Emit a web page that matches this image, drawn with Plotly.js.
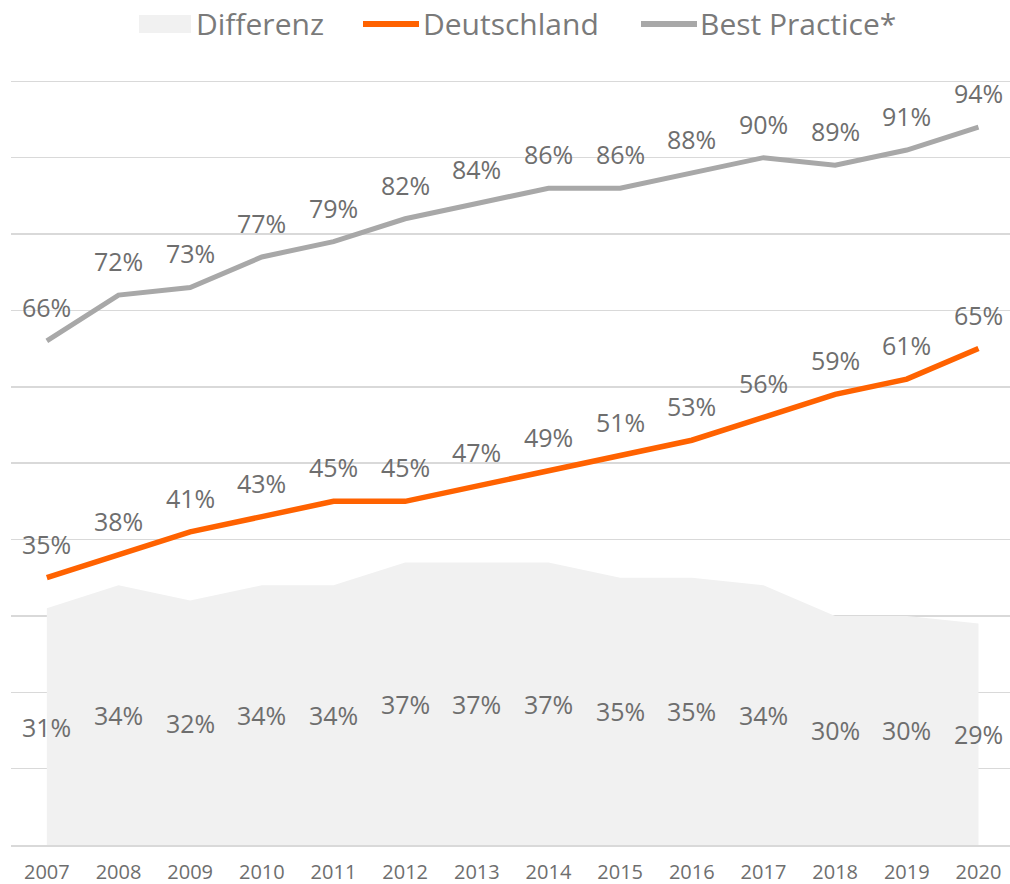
<!DOCTYPE html>
<html>
<head>
<meta charset="utf-8">
<script src="https://cdn.plot.ly/plotly-3.0.1.min.js"></script>
<style>html,body{margin:0;padding:0;background:#fff;overflow:hidden;}#chart{width:1010px;height:884px;}</style>
</head>
<body>
<div id="chart"></div>
<script>
var years = [2007,2008,2009,2010,2011,2012,2013,2014,2015,2016,2017,2018,2019,2020];
var bestPractice = [66,72,73,77,79,82,84,86,86,88,90,89,91,94];
var deutschland = [35,38,41,43,45,45,47,49,51,53,56,59,61,65];
var differenz = [31,34,32,34,34,37,37,37,35,35,34,30,30,29];
var seriesNames = ['Differenz','Deutschland','Best Practice*'];
var seriesColors = ['#F1F1F1','#FF6200','#A8A8A8'];

var FONT = '"Open Sans", "Noto Sans", sans-serif';
var TXT = '#6e6e6e';

var traces = [
  {x: years, y: differenz, name: seriesNames[0], type: 'scatter', mode: 'lines',
   fill: 'tozeroy', fillcolor: seriesColors[0], line: {width: 0, color: seriesColors[0]}, hoverinfo: 'skip'},
  {x: years, y: deutschland, name: seriesNames[1], type: 'scatter', mode: 'lines',
   line: {width: 5.5, color: seriesColors[1]}, hoverinfo: 'skip'},
  {x: years, y: bestPractice, name: seriesNames[2], type: 'scatter', mode: 'lines',
   line: {width: 5, color: seriesColors[2]}, hoverinfo: 'skip'}
];

// plot area geometry (pixels) used to place the custom legend
var ML = 11, MR = 0, MT = 79, MB = 39, W = 1010, H = 884;
var PW = W - ML - MR, PH = H - MT - MB;
function px(xp){ return (xp - ML) / PW; }
function py(yp){ return (H - MB - yp) / PH; }

var annotations = [];
function pct(v){ return v + '%'; }
years.forEach(function(yr, i){
  annotations.push({x: yr, y: bestPractice[i], text: pct(bestPractice[i]), showarrow: false,
    yshift: 34, font: {family: FONT, size: 25, color: TXT}});
  annotations.push({x: yr, y: deutschland[i], text: pct(deutschland[i]), showarrow: false,
    yshift: 34, font: {family: FONT, size: 25, color: TXT}});
  annotations.push({x: yr, y: differenz[i] / 2, text: pct(differenz[i]), showarrow: false,
    yshift: 0, font: {family: FONT, size: 25, color: TXT}});
});

// custom legend (symbol + label)
var legendTextX = [194, 421, 698];
seriesNames.forEach(function(n, i){
  annotations.push({xref: 'paper', yref: 'paper', x: px(legendTextX[i]), y: py(23),
    xanchor: 'left', yanchor: 'middle', text: n, showarrow: false,
    font: {family: FONT, size: 30, color: '#7a7a7a'}});
});
var shapes = [
  {type: 'rect', xref: 'paper', yref: 'paper', x0: px(139), x1: px(191), y0: py(33), y1: py(15),
   fillcolor: seriesColors[0], line: {width: 0}},
  {type: 'line', xref: 'paper', yref: 'paper', x0: px(363), x1: px(419), y0: py(24), y1: py(24),
   line: {color: seriesColors[1], width: 6}},
  {type: 'line', xref: 'paper', yref: 'paper', x0: px(641), x1: px(697), y0: py(24), y1: py(24),
   line: {color: seriesColors[2], width: 6}}
];

var layout = {
  width: W, height: H,
  margin: {l: ML, r: MR, t: MT, b: MB},
  paper_bgcolor: '#ffffff', plot_bgcolor: '#ffffff',
  font: {family: FONT, color: TXT},
  showlegend: false,
  xaxis: {range: [2006.5, 2020.44], tickmode: 'array', tickvals: years, ticktext: years.map(String),
    showgrid: false, zeroline: false, showline: true, linecolor: '#D9D9D9', linewidth: 2,
    ticks: '', ticklabelstandoff: 8, tickfont: {family: FONT, size: 20, color: TXT}, fixedrange: true},
  yaxis: {range: [0, 100.3], tickmode: 'array', tickvals: [10,20,30,40,50,60,70,80,90,100],
    showgrid: true, gridcolor: '#D9D9D9', gridwidth: 1.5,
    zeroline: false, showticklabels: false, ticks: '', fixedrange: true},
  shapes: shapes,
  annotations: annotations
};

Plotly.newPlot('chart', traces, layout, {displayModeBar: false, staticPlot: true});
</script>
</body>
</html>
